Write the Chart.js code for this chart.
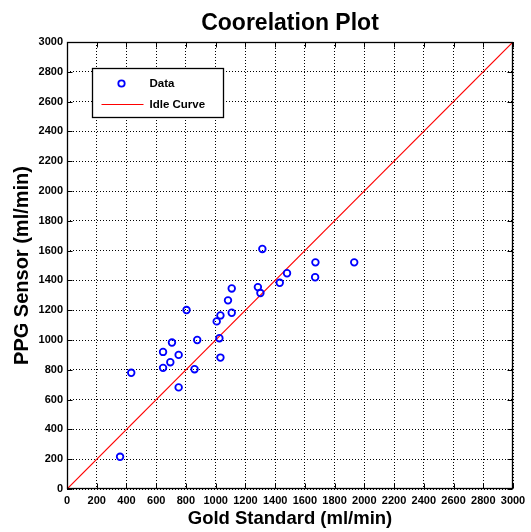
<!DOCTYPE html>
<html>
<head>
<meta charset="utf-8">
<script src="https://cdn.jsdelivr.net/npm/chart.js@4.4.1/dist/chart.umd.min.js"></script>
<style>
  html, body { margin: 0; padding: 0; background: #ffffff; }
  #wrap { width: 531px; height: 532px; }
</style>
</head>
<body>
<div id="wrap"><canvas id="c" width="531" height="532"></canvas></div>
<script>
// ---- data ----
const goldStandard = [357, 432, 646, 646, 695, 706, 751, 751, 804, 858, 876, 1007, 1032, 1025, 1032, 1083, 1108, 1108, 1284, 1301, 1314, 1431, 1480, 1671, 1669, 1932];
const ppgSensor    = [216, 780, 920, 813, 851, 983, 900, 682, 1201, 804, 1000, 1125, 1165, 1012, 882, 1266, 1183, 1346, 1355, 1315, 1611, 1384, 1448, 1521, 1421, 1521];
const idleX = [0, 3000];
const idleY = [0, 3000];
const seriesLabels = ['Data', 'Idle Curve'];
const chartTitle = 'Coorelation Plot';
const xTitle = 'Gold Standard (ml/min)';
const yTitle = 'PPG Sensor (ml/min)';
const axisMin = 0, axisMax = 3000, tickStep = 200;

const FONT = "'Liberation Sans', Arial, Helvetica, sans-serif";

const scatterPts = goldStandard.map((x, i) => ({ x: x, y: ppgSensor[i] }));
const idlePts = idleX.map((x, i) => ({ x: x, y: idleY[i] }));

const whiteBg = {
  id: 'whiteBg',
  beforeDraw(chart) {
    const ctx = chart.ctx;
    ctx.save();
    ctx.fillStyle = '#ffffff';
    ctx.fillRect(0, 0, chart.width, chart.height);
    ctx.restore();
  }
};

// title centred over the plot area
const plotTitle = {
  id: 'plotTitle',
  afterDraw(chart) {
    const ctx = chart.ctx;
    const a = chart.chartArea;
    ctx.save();
    ctx.fillStyle = '#000';
    ctx.font = 'bold 23px ' + FONT;
    ctx.textAlign = 'center';
    ctx.textBaseline = 'middle';
    ctx.fillText(chartTitle, (a.left + a.right) / 2, 23.5);
    ctx.restore();
  }
};

// frame + inward ticks on all four sides (MATLAB style)
const frameTicks = {
  id: 'frameTicks',
  afterDatasetsDraw(chart) {
    const ctx = chart.ctx;
    const a = chart.chartArea;
    const xs = chart.scales.x, ys = chart.scales.y;
    const L = Math.round(a.left) + 0.5, R = Math.round(a.right) - 0.5;
    const T = Math.round(a.top) + 0.5, B = Math.round(a.bottom) - 0.5;
    const tl = 5;
    ctx.save();
    ctx.strokeStyle = '#000';
    ctx.lineWidth = 1;
    ctx.setLineDash([]);
    ctx.beginPath();
    xs.ticks.forEach(t => {
      const px = Math.round(xs.getPixelForValue(t.value)) + 0.5;
      ctx.moveTo(px, B); ctx.lineTo(px, B - tl);
      ctx.moveTo(px, T); ctx.lineTo(px, T + tl);
    });
    ys.ticks.forEach(t => {
      const py = Math.round(ys.getPixelForValue(t.value)) + 0.5;
      ctx.moveTo(L, py); ctx.lineTo(L + tl, py);
      ctx.moveTo(R, py); ctx.lineTo(R - tl, py);
    });
    ctx.stroke();
    ctx.lineWidth = 1.3;
    ctx.strokeRect(L, T, R - L, B - T);
    ctx.restore();
  }
};

// boxed legend inside plot area, top-left
const boxLegend = {
  id: 'boxLegend',
  afterDraw(chart) {
    const ctx = chart.ctx;
    const a = chart.chartArea;
    const bx = a.left + 25.5, by = a.top + 26.5, bw = 131, bh = 49;
    const d0 = chart.data.datasets[0], d1 = chart.data.datasets[1];
    ctx.save();
    ctx.fillStyle = '#fff';
    ctx.fillRect(bx, by, bw, bh);
    ctx.strokeStyle = '#000';
    ctx.lineWidth = 1.3;
    ctx.setLineDash([]);
    ctx.strokeRect(bx, by, bw, bh);
    ctx.beginPath();
    ctx.arc(bx + 29, by + 15, 3.2, 0, Math.PI * 2);
    ctx.strokeStyle = d0.borderColor;
    ctx.lineWidth = d0.pointBorderWidth;
    ctx.stroke();
    ctx.beginPath();
    ctx.moveTo(bx + 9, by + 36);
    ctx.lineTo(bx + 51, by + 36);
    ctx.strokeStyle = d1.borderColor;
    ctx.lineWidth = 1.2;
    ctx.stroke();
    ctx.fillStyle = '#000';
    ctx.font = 'bold 11.5px ' + FONT;
    ctx.textBaseline = 'middle';
    ctx.textAlign = 'left';
    ctx.fillText(d0.label, bx + 57, by + 15.5);
    ctx.fillText(d1.label, bx + 57, by + 36.5);
    ctx.restore();
  }
};

const tickFont = { family: FONT, size: 11, weight: 'bold' };
const plainNum = v => String(v);

new Chart(document.getElementById('c'), {
  type: 'scatter',
  data: {
    datasets: [
      {
        label: seriesLabels[0],
        data: scatterPts,
        showLine: false,
        borderColor: '#0000ff',
        backgroundColor: 'rgba(0,0,0,0)',
        pointRadius: 3.3,
        pointBorderWidth: 1.8,
        pointHoverRadius: 3.3,
        order: 1
      },
      {
        label: seriesLabels[1],
        data: idlePts,
        showLine: true,
        borderColor: '#ff0000',
        backgroundColor: '#ff0000',
        borderWidth: 1.2,
        pointRadius: 0,
        pointHoverRadius: 0,
        fill: false,
        order: 2
      }
    ]
  },
  options: {
    responsive: false,
    animation: false,
    events: [],
    layout: { padding: { left: 0, right: 18, top: 42, bottom: 0 } },
    plugins: {
      legend: { display: false },
      tooltip: { enabled: false },
      title: { display: false }
    },
    scales: {
      x: {
        type: 'linear',
        min: axisMin, max: axisMax,
        afterFit(s) { s.height = 43; },
        ticks: { stepSize: tickStep, autoSkip: false, maxRotation: 0, color: '#000', font: tickFont, padding: 5, callback: plainNum },
        grid: { color: '#000', lineWidth: 1, drawTicks: false },
        border: { display: false, dash: [1, 2] },
        title: { display: true, text: xTitle, color: '#000', font: { family: FONT, size: 18.5, weight: 'bold' }, padding: { top: 0, bottom: 2 } }
      },
      y: {
        type: 'linear',
        min: axisMin, max: axisMax,
        afterFit(s) { s.width = 67; },
        ticks: { stepSize: tickStep, autoSkip: false, color: '#000', font: tickFont, padding: 4, callback: plainNum },
        grid: { color: '#000', lineWidth: 1, drawTicks: false },
        border: { display: false, dash: [1, 2] },
        title: { display: true, text: yTitle, color: '#000', font: { family: FONT, size: 20, weight: 'bold' }, padding: { top: 10, bottom: 0 } }
      }
    }
  },
  plugins: [whiteBg, frameTicks, boxLegend, plotTitle]
});
</script>
</body>
</html>
